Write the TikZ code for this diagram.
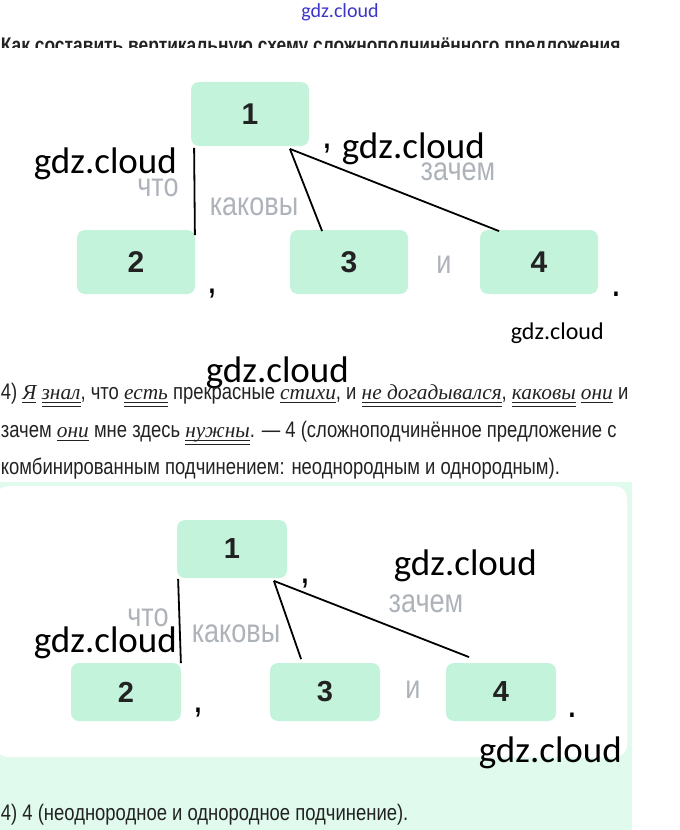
\documentclass[tikz,border=0pt]{standalone}
\usepackage{fontspec}
\setmainfont{Liberation Sans}[FakeStretch=0.82]
\newfontfamily\wmfont{Carlito}
\newfontfamily\exfont{Liberation Serif}[Scale=0.95]
\newfontfamily\digfont{Liberation Sans}
\usetikzlibrary{positioning}

\definecolor{boxgreen}{HTML}{C4F3DC}
\definecolor{mintbg}{HTML}{E0FBEE}
\definecolor{conjgray}{HTML}{AEB3BA}
\definecolor{wmblue}{HTML}{3B35C8}
\definecolor{txt}{HTML}{222222}

\newsavebox{\wordbox}
\newcommand{\fs}[1]{\fontsize{#1}{#1}\selectfont}
\newcommand{\ex}[1]{{\exfont\itshape #1}}
\newcommand{\subj}[1]{\sbox{\wordbox}{\ex{#1}}%
  \rlap{\rule[-4pt]{\wd\wordbox}{0.7pt}}\usebox{\wordbox}}
\newcommand{\pred}[1]{\sbox{\wordbox}{\ex{#1}}%
  \rlap{\rule[-4pt]{\wd\wordbox}{0.7pt}}%
  \rlap{\rule[-7.5pt]{\wd\wordbox}{0.7pt}}\usebox{\wordbox}}

\begin{document}
\begin{tikzpicture}[x=1pt, y=-1pt, line width=1.8pt,
  box/.style={rectangle, rounded corners=8pt, fill=boxgreen, minimum width=118pt,
    minimum height=64pt, inner sep=0pt, text=txt, font=\digfont\fs{30}\bfseries},
  sbox/.style={box, minimum width=110pt, minimum height=58pt, font=\digfont\fs{29}\bfseries},
  conj/.style={text=conjgray, inner sep=0pt, font=\fs{33}},
  punct/.style={anchor=base, inner sep=0pt, font=\fs{30}\bfseries},
  wm/.style={anchor=base west, inner sep=0pt, font=\wmfont\fs{37}},
  line/.style={anchor=base west, inner sep=0pt, text=txt, font=\fs{22.5}}]
  \useasboundingbox (0,0) rectangle (680,830);

  % answer panel
  \fill[mintbg] (0,482) rectangle (632,830);
  \fill[white, rounded corners=12pt] (-4,486) rectangle (627,757);

  % header
  \node[font=\wmfont\fs{20}, text=wmblue, inner sep=0pt] (wmtop) at (340,12) {gdz.cloud};
  \begin{scope}
    \clip (0,0) rectangle (680,47);
    \node[line, font=\fs{21.2}\bfseries] (title) at (0,52)
      {Как составить вертикальную схему сложноподчинённого предложения};
  \end{scope}

  % first scheme
  \node[box] (a1) at (250,114) {1};
  \node[box] (a2) at (136,262) {2};
  \node[box] (a3) at (349,262) {3};
  \node[box] (a4) at (539,262) {4};
  \coordinate (a1s) at ([xshift=-20pt, yshift=-2pt]a1.south east);
  \draw ([xshift=4pt, yshift=-1pt]a1.south west) -- ([xshift=-1pt, yshift=-6pt]a2.north east);
  \draw (a1s) -- ([xshift=33pt, yshift=-2pt]a3.north west);
  \draw (a1s) -- ([xshift=20pt, yshift=-2pt]a4.north west);
  \node[conj] (a-chto) at (158,188) {что};
  \node[conj] (a-kak) at (254,207) {каковы};
  \node[conj] (a-zach) at (458,172) {зачем};
  \node[conj] (a-i) at (444,265) {и};
  \node[punct] (a-c1) at (327,148) {,};
  \node[punct] (a-c2) at (212,293) {,};
  \node[punct] (a-dot) at (616,296) {.};

  \node[wm] (wm1) at (33,173) {gdz.cloud};
  \node[wm] (wm2) at (341,158) {gdz.cloud};
  \node[wm, font=\wmfont\fs{24}] (wm3) at (510,339) {gdz.cloud};
  \node[wm] (wm4) at (205,382) {gdz.cloud};

  % analysis text
  \node[line] (l1) at (0,399) {4) \subj{Я} \pred{знал}, что \pred{есть} прекрасные
    \subj{стихи}, и \pred{не догадывался}, \pred{каковы} \subj{они} и};
  \node[line] (l2) at (0,437) {зачем \subj{они} мне здесь \pred{нужны}. — 4
    (сложноподчинённое предложение с};
  \node[line] (l3) at (0,474) {комбинированным подчинением: неоднородным и однородным).};

  % second scheme
  \node[sbox] (b1) at (232,549) {1};
  \node[sbox] (b2) at (126,692) {2};
  \node[sbox] (b3) at (325,692) {3};
  \node[sbox] (b4) at (501,692) {4};
  \coordinate (b1s) at ([xshift=-14pt, yshift=-2pt]b1.south east);
  \draw ([xshift=2pt, yshift=0pt]b1.south west) -- ([xshift=-1pt, yshift=-1pt]b2.north east);
  \draw (b1s) -- ([xshift=32pt, yshift=3pt]b3.north west);
  \draw (b1s) -- ([xshift=24pt, yshift=5pt]b4.north west);
  \node[conj] (b-chto) at (148,618) {что};
  \node[conj] (b-kak) at (236,634) {каковы};
  \node[conj] (b-zach) at (426,604) {зачем};
  \node[conj] (b-i) at (413,690) {и};
  \node[punct] (b-c1) at (305,583) {,};
  \node[punct] (b-c2) at (198,712) {,};
  \node[punct] (b-dot) at (572,717) {.};

  \node[wm] (wm5) at (393,575) {gdz.cloud};
  \node[wm] (wm6) at (33,652) {gdz.cloud};
  \node[wm] (wm7) at (478,762) {gdz.cloud};

  \node[line] (l4) at (0,820) {4) 4 (неоднородное и однородное подчинение).};
\end{tikzpicture}
\end{document}
